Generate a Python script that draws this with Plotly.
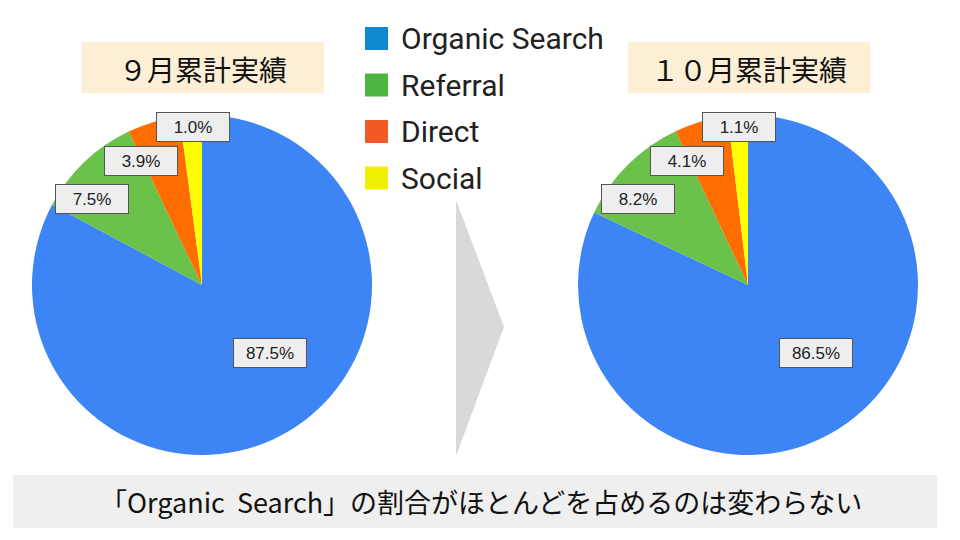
import plotly.graph_objects as go

W, H = 960, 540

categories = ['Organic Search', 'Referral', 'Direct', 'Social']
# printed labels (share in %)
sep_labels = [87.5, 7.5, 3.9, 1.0]
oct_labels = [86.5, 8.2, 4.1, 1.1]
# wedge sizes as drawn in the picture (they do not follow the printed labels)
sep_slices = [82.9, 10.1, 5.0, 2.1]
oct_slices = [82.0, 11.0, 5.1, 1.9]
titles = ['９月累計実績', '１０月累計実績']
caption = '「Organic  Search」の割合がほとんどを占めるのは変わらない'

pie_colors = ['#3d85f4', '#6ac24b', '#ff6d00', '#ffff00']
legend_colors = ['#0f8ad0', '#4cb43f', '#f15a24', '#f0f000']

# label box offsets from pie centre (pixels), per category
label_offsets = [(68, 68), (-110, -86), (-61, -124), (-9, -158)]


def px(x):
    return x / W


def py(y):
    return 1 - y / H


fig = go.Figure()
shapes = []
annotations = []

pies = [(sep_slices, sep_labels, 202), (oct_slices, oct_labels, 748)]
for i, (vals, labs, cx) in enumerate(pies):
    cy, r = 285, 170
    fig.add_trace(go.Pie(
        labels=categories, values=vals,
        sort=False, direction='clockwise', rotation=0,
        marker=dict(colors=pie_colors, line=dict(width=0)),
        textinfo='none', hoverinfo='label',
        domain=dict(x=[px(cx - r), px(cx + r)], y=[py(cy + r), py(cy - r)]),
        showlegend=False,
    ))
    for v, (dx, dy) in zip(labs, label_offsets):
        annotations.append(dict(
            x=px(cx + dx), y=py(cy + dy), xref='paper', yref='paper',
            xanchor='center', yanchor='middle',
            text=f'{v:.1f}%', showarrow=False,
            font=dict(family='Liberation Sans, Arial', size=17, color='#222'),
            bgcolor='#eeeeee', bordercolor='#555555', borderwidth=1,
            width=70, height=26, borderpad=1,
        ))
    # title box
    tx = cx + 1
    shapes.append(dict(type='rect', xref='paper', yref='paper',
                       x0=px(tx - 121), x1=px(tx + 121), y0=py(93), y1=py(42),
                       fillcolor='#fcefd5', line=dict(width=0), layer='below'))
    annotations.append(dict(
        x=px(tx), y=py(69), xref='paper', yref='paper', text=titles[i],
        showarrow=False, xanchor='center', yanchor='middle',
        font=dict(family='Noto Sans CJK JP', size=28, color='#111'),
    ))

# legend
for k, (name, col) in enumerate(zip(categories, legend_colors)):
    yc = 38.5 + k * 46.5
    shapes.append(dict(type='rect', xref='paper', yref='paper',
                       x0=px(365), x1=px(388), y0=py(yc + 11.5), y1=py(yc - 11.5),
                       fillcolor=col, line=dict(width=0)))
    annotations.append(dict(
        x=px(399), y=py(yc), xref='paper', yref='paper', text=name,
        showarrow=False, xanchor='left', yanchor='middle',
        font=dict(family='Roboto', size=30, color='#222'),
    ))

# arrow between pies
shapes.append(dict(type='path', xref='paper', yref='paper',
                   path=f'M {px(456)} {py(200)} L {px(504)} {py(327)} L {px(456)} {py(456)} Z',
                   fillcolor='#d9d9d9', line=dict(width=0)))

# caption box
shapes.append(dict(type='rect', xref='paper', yref='paper',
                   x0=px(13), x1=px(937), y0=py(528), y1=py(475),
                   fillcolor='#efefef', line=dict(width=0), layer='below'))
annotations.append(dict(
    x=px(481), y=py(501), xref='paper', yref='paper', text=caption,
    showarrow=False, xanchor='center', yanchor='middle',
    font=dict(family='Noto Sans CJK JP', size=27, color='#111'),
))

fig.update_layout(
    width=W, height=H,
    margin=dict(l=0, r=0, t=0, b=0),
    paper_bgcolor='white', plot_bgcolor='white',
    shapes=shapes, annotations=annotations,
    showlegend=False,
)

fig.write_html("out.html", config={'displayModeBar': False},
               post_script="document.body.style.margin='0';")
